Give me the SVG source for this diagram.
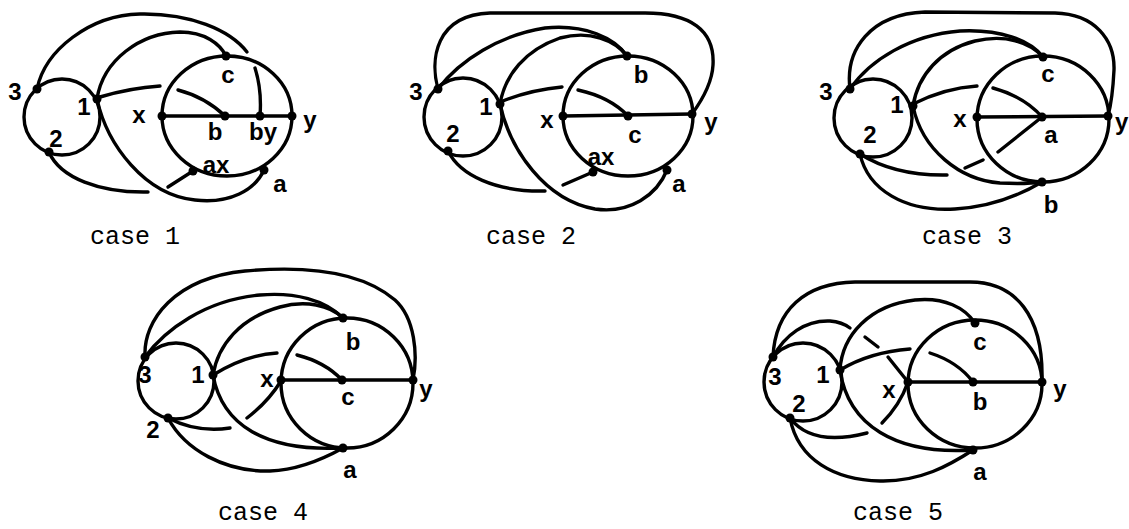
<svg xmlns="http://www.w3.org/2000/svg" width="1129" height="529" viewBox="0 0 1129 529">
<style>
.e{fill:none;stroke:#000;stroke-width:3.4;stroke-linecap:round;stroke-linejoin:round}
.d{fill:#000}
.l{font-family:"Liberation Sans",Arial,sans-serif;font-size:24px;font-weight:bold;fill:#000;text-anchor:middle}
.cap{font-family:"Liberation Mono","Courier New",monospace;font-size:25px;fill:#000}
</style>
<rect width="1129" height="529" fill="#fff"/>

<!-- CASE 1 -->
<g id="case1-connectors">
<circle class="e" cx="62" cy="117" r="38"/>
<ellipse class="e" cx="227" cy="116" rx="65" ry="60"/>
<path class="e" d="M162,116 L292,116"/>
<path class="e" d="M37,89 C45,50 90,15 140,14 C190,13 230,30 247,52"/>
<path class="e" d="M255,68 Q262,90 260,116"/>
<path class="e" d="M97,99 C103,60 140,33 180,32 C205,32 220,44 226,56"/>
<path class="e" d="M100,97 Q130,88 160,86"/>
<path class="e" d="M178,90 Q205,97 225,116"/>
<path class="e" d="M49,152 C60,178 100,193 148,192"/>
<path class="e" d="M168,187 L193,171"/>
<path class="e" d="M97,99 C107,145 145,195 195,200 C230,204 255,190 264,170"/>
</g>
<g id="case1-n3"><circle class="d" cx="37" cy="89" r="4.5"/><text class="l" x="15" y="100">3</text></g>
<g id="case1-n1"><circle class="d" cx="97" cy="99" r="4.5"/><text class="l" x="84" y="115">1</text></g>
<g id="case1-n2"><circle class="d" cx="49" cy="152" r="4.5"/><text class="l" x="56" y="147">2</text></g>
<g id="case1-nx"><circle class="d" cx="162" cy="116" r="4.5"/><text class="l" x="139" y="123">x</text></g>
<g id="case1-nc"><circle class="d" cx="226" cy="56" r="4.5"/><text class="l" x="228" y="83">c</text></g>
<g id="case1-nb"><circle class="d" cx="225" cy="116" r="4.5"/><text class="l" x="215" y="140">b</text></g>
<g id="case1-nby"><circle class="d" cx="260" cy="116" r="4.5"/><text class="l" x="263" y="140">by</text></g>
<g id="case1-ny"><circle class="d" cx="292" cy="116" r="4.5"/><text class="l" x="310" y="128">y</text></g>
<g id="case1-nax"><circle class="d" cx="193" cy="171" r="4.5"/><text class="l" x="216" y="173">ax</text></g>
<g id="case1-na"><circle class="d" cx="264" cy="170" r="4.5"/><text class="l" x="280" y="192">a</text></g>
<text class="cap" x="90" y="244">case 1</text>

<!-- CASE 2 -->
<g id="case2-connectors">
<circle class="e" cx="463" cy="117" r="39"/>
<ellipse class="e" cx="628" cy="116" rx="65" ry="60"/>
<path class="e" d="M563,116 L692,114"/>
<path class="e" d="M438,89 C430,60 435,15 490,13 L645,13 C690,13 715,30 713,65 C712,85 700,103 692,114"/>
<path class="e" d="M438,89 C460,60 500,35 545,28 C585,24 615,38 627,56"/>
<path class="e" d="M500,104 C505,75 525,50 560,38 C590,30 615,40 627,56"/>
<path class="e" d="M500,102 Q530,90 562,87"/>
<path class="e" d="M578,90 Q610,97 628,116"/>
<path class="e" d="M448,151 C460,175 495,192 545,191"/>
<path class="e" d="M563,185 L593,172"/>
<path class="e" d="M500,104 C510,150 545,200 595,209 C630,214 657,195 667,170"/>
</g>
<g id="case2-n3"><circle class="d" cx="438" cy="89" r="4.5"/><text class="l" x="416" y="100">3</text></g>
<g id="case2-n1"><circle class="d" cx="500" cy="104" r="4.5"/><text class="l" x="486" y="115">1</text></g>
<g id="case2-n2"><circle class="d" cx="448" cy="151" r="4.5"/><text class="l" x="453" y="142">2</text></g>
<g id="case2-nx"><circle class="d" cx="563" cy="116" r="4.5"/><text class="l" x="547" y="128">x</text></g>
<g id="case2-nb"><circle class="d" cx="627" cy="56" r="4.5"/><text class="l" x="641" y="83">b</text></g>
<g id="case2-nc"><circle class="d" cx="628" cy="116" r="4.5"/><text class="l" x="635" y="143">c</text></g>
<g id="case2-ny"><circle class="d" cx="692" cy="114" r="4.5"/><text class="l" x="711" y="130">y</text></g>
<g id="case2-nax"><circle class="d" cx="593" cy="172" r="4.5"/><text class="l" x="601" y="165">ax</text></g>
<g id="case2-na"><circle class="d" cx="667" cy="170" r="4.5"/><text class="l" x="679" y="192">a</text></g>
<text class="cap" x="486" y="244">case 2</text>

<!-- CASE 3 -->
<g id="case3-connectors">
<circle class="e" cx="873" cy="118" r="39"/>
<ellipse class="e" cx="1043" cy="119" rx="66" ry="63"/>
<path class="e" d="M977,117 L1108,116"/>
<path class="e" d="M850,89 C845,50 870,14 925,12 L1055,13 C1095,14 1115,40 1114,70 C1113,90 1111,105 1108,116"/>
<path class="e" d="M850,89 C870,60 910,35 960,31 C1000,29 1030,40 1043,57"/>
<path class="e" d="M913,106 C918,75 940,50 975,41 C1005,34 1030,42 1043,57"/>
<path class="e" d="M913,104 Q945,88 977,86"/>
<path class="e" d="M993,88 Q1025,97 1042,117"/>
<path class="e" d="M913,106 C922,150 960,180 1000,183 C1020,184 1035,183 1042,182"/>
<path class="e" d="M860,154 Q895,176 947,175"/>
<path class="e" d="M965,168 L983,160"/>
<path class="e" d="M998,152 L1042,117"/>
<path class="e" d="M860,154 C868,190 905,212 955,209 C990,207 1020,195 1042,182"/>
</g>
<g id="case3-n3"><circle class="d" cx="850" cy="89" r="4.5"/><text class="l" x="826" y="100">3</text></g>
<g id="case3-n1"><circle class="d" cx="913" cy="106" r="4.5"/><text class="l" x="897" y="113">1</text></g>
<g id="case3-n2"><circle class="d" cx="860" cy="154" r="4.5"/><text class="l" x="870" y="143">2</text></g>
<g id="case3-nx"><circle class="d" cx="977" cy="117" r="4.5"/><text class="l" x="960" y="127">x</text></g>
<g id="case3-nc"><circle class="d" cx="1043" cy="57" r="4.5"/><text class="l" x="1048" y="82">c</text></g>
<g id="case3-na"><circle class="d" cx="1042" cy="117" r="4.5"/><text class="l" x="1051" y="143">a</text></g>
<g id="case3-ny"><circle class="d" cx="1108" cy="116" r="4.5"/><text class="l" x="1115" y="130" style="text-anchor:start">y</text></g>
<g id="case3-nb"><circle class="d" cx="1042" cy="182" r="4.5"/><text class="l" x="1051" y="213">b</text></g>
<text class="cap" x="922" y="244">case 3</text>

<!-- CASE 4 -->
<g id="case4-connectors">
<circle class="e" cx="176" cy="381" r="38"/>
<ellipse class="e" cx="347" cy="383" rx="66" ry="65"/>
<path class="e" d="M281,380 L413,380"/>
<path class="e" d="M145,357 C143,320 175,278 245,271 C300,266 360,270 395,300 C415,318 418,355 413,380"/>
<path class="e" d="M145,357 C165,330 205,300 260,295 C295,292 325,300 343,318"/>
<path class="e" d="M213,375 C218,345 240,318 280,307 C305,300 330,305 343,318"/>
<path class="e" d="M213,375 Q245,355 277,353"/>
<path class="e" d="M297,355 Q325,362 342,380"/>
<path class="e" d="M213,375 C222,425 265,452 343,448"/>
<path class="e" d="M168,418 Q197,433 230,428"/>
<path class="e" d="M247,418 Q268,402 281,381"/>
<path class="e" d="M168,418 C185,450 225,472 270,471 C300,470 325,458 343,448"/>
</g>
<g id="case4-n3"><circle class="d" cx="145" cy="357" r="4.5"/><text class="l" x="145" y="383">3</text></g>
<g id="case4-n1"><circle class="d" cx="213" cy="375" r="4.5"/><text class="l" x="198" y="383">1</text></g>
<g id="case4-n2"><circle class="d" cx="168" cy="418" r="4.5"/><text class="l" x="153" y="438">2</text></g>
<g id="case4-nx"><circle class="d" cx="281" cy="380" r="4.5"/><text class="l" x="267" y="387">x</text></g>
<g id="case4-nb"><circle class="d" cx="343" cy="318" r="4.5"/><text class="l" x="353" y="350">b</text></g>
<g id="case4-nc"><circle class="d" cx="342" cy="380" r="4.5"/><text class="l" x="348" y="405">c</text></g>
<g id="case4-ny"><circle class="d" cx="413" cy="380" r="4.5"/><text class="l" x="426" y="397">y</text></g>
<g id="case4-na"><circle class="d" cx="343" cy="448" r="4.5"/><text class="l" x="350" y="478">a</text></g>
<text class="cap" x="218" y="520">case 4</text>

<!-- CASE 5 -->
<g id="case5-connectors">
<circle class="e" cx="803" cy="382" r="39"/>
<ellipse class="e" cx="975" cy="384" rx="67" ry="64"/>
<path class="e" d="M908,382 L1042,382"/>
<path class="e" d="M773,357 C775,310 805,283 855,282 L970,282 C1015,282 1044,315 1042,382"/>
<path class="e" d="M773,357 C785,335 805,320 830,321 Q842,322 850,328"/>
<path class="e" d="M865,337 L878,347"/>
<path class="e" d="M888,357 L908,382"/>
<path class="e" d="M840,370 C842,335 870,305 915,300 C945,297 965,308 975,323"/>
<path class="e" d="M840,370 Q870,352 910,349"/>
<path class="e" d="M930,353 Q958,362 973,382"/>
<path class="e" d="M840,370 C848,425 895,455 973,450"/>
<path class="e" d="M790,418 Q812,447 867,433"/>
<path class="e" d="M882,423 Q900,405 908,382"/>
<path class="e" d="M790,418 C798,460 835,480 880,481 C920,482 950,465 973,450"/>
</g>
<g id="case5-n3"><circle class="d" cx="773" cy="357" r="4.5"/><text class="l" x="775" y="385">3</text></g>
<g id="case5-n1"><circle class="d" cx="840" cy="370" r="4.5"/><text class="l" x="823" y="383">1</text></g>
<g id="case5-n2"><circle class="d" cx="790" cy="418" r="4.5"/><text class="l" x="799" y="412">2</text></g>
<g id="case5-nx"><circle class="d" cx="908" cy="382" r="4.5"/><text class="l" x="889" y="398">x</text></g>
<g id="case5-nc"><circle class="d" cx="975" cy="323" r="4.5"/><text class="l" x="980" y="350">c</text></g>
<g id="case5-nb"><circle class="d" cx="973" cy="382" r="4.5"/><text class="l" x="980" y="410">b</text></g>
<g id="case5-ny"><circle class="d" cx="1042" cy="382" r="4.5"/><text class="l" x="1060" y="397">y</text></g>
<g id="case5-na"><circle class="d" cx="973" cy="450" r="4.5"/><text class="l" x="980" y="480">a</text></g>
<text class="cap" x="853" y="520">case 5</text>
</svg>
